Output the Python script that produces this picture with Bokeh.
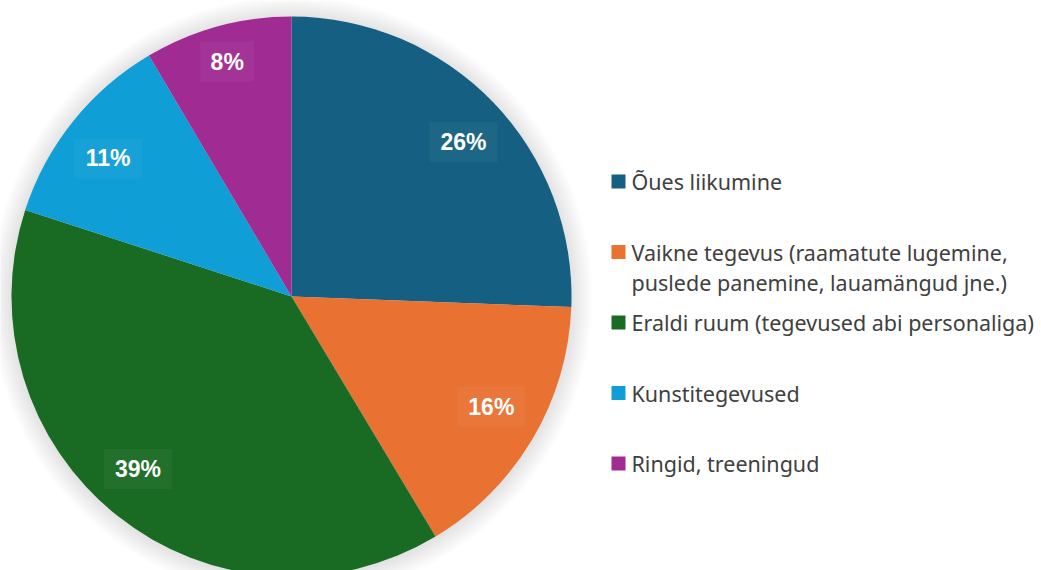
import numpy as np
from bokeh.plotting import figure
from bokeh.models import ColumnDataSource, Range1d
from bokeh.core.properties import value
from bokeh.embed import file_html
from bokeh.resources import INLINE

# ---- data ----
categories = [
    "Õues liikumine",
    "Vaikne tegevus (raamatute lugemine,\npuslede panemine, lauamängud jne.)",
    "Eraldi ruum (tegevused abi personaliga)",
    "Kunstitegevused",
    "Ringid, treeningud",
]
shares = [25.6, 15.8, 38.6, 11.5, 8.5]
pct_labels = ["26%", "16%", "39%", "11%", "8%"]
colors = ["#156082", "#E97132", "#196B24", "#0F9ED5", "#A02B93"]

# ---- layout ----
W, H = 1041, 570
def Y(y):
    return H - y

cx, cy, R = 291, Y(296), 280
label_r = [0.825, 0.815, 0.825, 0.82, 0.87]
label_rot = [-0.035, 0.03, -0.055, 0.03, 0.0]  # small angular nudges (radians)

p = figure(width=W, height=H, x_range=Range1d(0, W), y_range=Range1d(0, H),
           output_backend="svg", toolbar_location=None, min_border=0)
p.axis.visible = False
p.grid.visible = False
p.outline_line_color = None
p.background_fill_color = "white"
p.border_fill_color = "white"

# soft glow around pie
for i in range(14):
    p.circle(x=[cx], y=[cy - 1], radius=R + 1.5 * (i + 1), fill_color="black",
             fill_alpha=0.008, line_color=None)

vals = np.array(shares, dtype=float)
frac = vals / vals.sum()
cum = np.cumsum(frac)
prev = np.concatenate([[0], cum[:-1]])
start = np.pi / 2 - 2 * np.pi * prev
end = np.pi / 2 - 2 * np.pi * cum

src = ColumnDataSource(dict(start=start, end=end, color=colors))
p.wedge(x=cx, y=cy, radius=R, start_angle="start", end_angle="end",
        direction="clock", fill_color="color", line_color=None, source=src)

# data labels
mid = np.pi / 2 - 2 * np.pi * (prev + cum) / 2 + np.array(label_rot)
lx = cx + np.array(label_r) * R * np.cos(mid)
ly = cy + np.array(label_r) * R * np.sin(mid)
bw = [14 * len(s) + 26 for s in pct_labels]
p.rect(x=lx, y=ly, width=bw, height=40, fill_color="white", fill_alpha=0.04,
       line_color=None)
p.text(x=lx, y=ly, text=pct_labels, text_align="center", text_baseline="middle",
       text_font=value("Liberation Sans"), text_font_style="bold",
       text_font_size="23px", text_color="white")

# legend
leg_x, leg_y0, leg_dy, line_h = 611, 181, 70.5, 30
sq = 14
for i, (cat, col) in enumerate(zip(categories, colors)):
    yy = leg_y0 + i * leg_dy
    p.rect(x=[leg_x + sq / 2], y=[Y(yy)], width=sq, height=sq,
           fill_color=col, line_color=None)
    for j, line in enumerate(cat.split("\n")):
        p.text(x=[leg_x + 20], y=[Y(yy + j * line_h)], text=[line],
               text_align="left", text_baseline="middle",
               text_font=value("Noto Sans"), text_font_size="21.5px",
               text_color="#404040")

open("out.html", "w").write(file_html(p, INLINE))
